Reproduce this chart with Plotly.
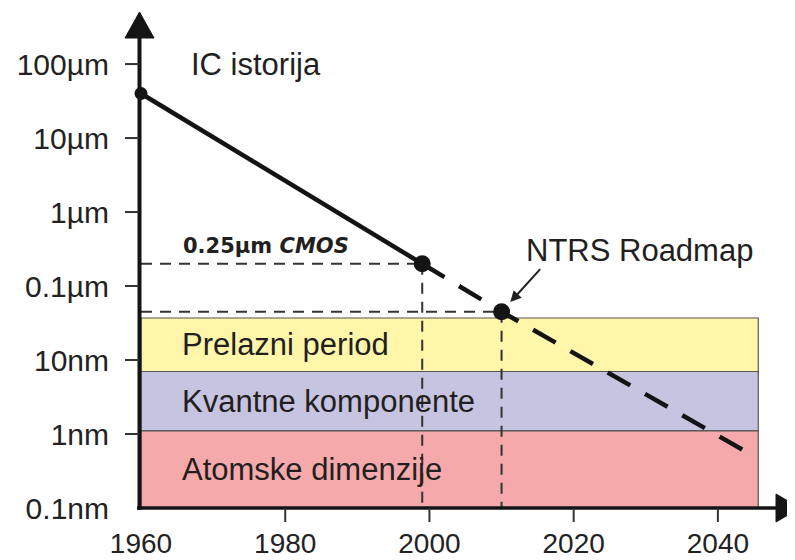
import numpy as np
import plotly.graph_objects as go

# ---------------- data ----------------
hist_years = [1960, 1999]
hist_nm = [40000, 200]
roadmap_years = [1999, 2010, 2045]
roadmap_nm = [200, 45, 0.5]
point_years = [1960, 1999, 2010]
point_nm = [40000, 200, 45]
point_sizes = [13, 17, 17]
ref_years = [1999, 2010]
ref_nm = [200, 45]

band_labels = ["Prelazni period", "Kvantne komponente", "Atomske dimenzije"]
band_low_nm = [7, 1.1, 0.1]
band_high_nm = [37, 7, 1.1]
band_colors = ["#FFF6AA", "#C7C4E1", "#F5A9AB"]
band_start_year = 1960
band_end_year = 2045.6
band_label_year = 1965.4

x_tick_years = [1960, 1980, 2000, 2020, 2040]
x_tick_text = ["1960", "1980", "2000", "2020", "2040"]
y_tick_nm = [0.1, 1, 10, 100, 1000, 10000, 100000]
y_tick_text = ["0.1nm", "1nm", "10nm", "0.1µm", "1µm", "10µm", "100µm"]

# ---------------- layout geometry ----------------
# the page body adds an 8px margin, so the figure is made 8px smaller
OFF = 8
W, H = 795 - OFF, 560 - OFF
L, R, T, B = 141 - OFF, 5, 13 - OFF, 52
PW, PH = W - L - R, H - T - B
X_RANGE = [1960, 2050]
Y_RANGE = [-1, 5.69]

def px(xp):
    """reference-screen pixel x -> paper"""
    return (xp - OFF - L) / PW

def py(yp):
    """reference-screen pixel y -> paper"""
    return (H - B - (yp - OFF)) / PH

FONT = "Liberation Sans, Arial, sans-serif"
DARK = "#141414"
TXT = "#231F20"

fig = go.Figure()

# bands
for lab, lo, hi, col in zip(band_labels, band_low_nm, band_high_nm, band_colors):
    fig.add_trace(go.Scatter(
        x=[band_start_year, band_end_year, band_end_year, band_start_year, band_start_year],
        y=[lo, lo, hi, hi, lo], mode="lines", fill="toself", fillcolor=col,
        line=dict(color="#555555", width=1.2), hoverinfo="skip", showlegend=False))

# guide dashed lines
for yr, v in zip(ref_years, ref_nm):
    fig.add_trace(go.Scatter(x=[X_RANGE[0], yr], y=[v, v], mode="lines",
                             line=dict(color="#333333", width=2, dash="11px,8px"),
                             hoverinfo="skip", showlegend=False))
    fig.add_trace(go.Scatter(x=[yr, yr], y=[v, band_low_nm[-1]], mode="lines",
                             line=dict(color="#333333", width=2, dash="11px,8px"),
                             hoverinfo="skip", showlegend=False))

# history (solid) and roadmap (dashed)
fig.add_trace(go.Scatter(x=hist_years, y=hist_nm, mode="lines",
                         line=dict(color=DARK, width=4.5), showlegend=False, cliponaxis=False))
fig.add_trace(go.Scatter(x=roadmap_years, y=roadmap_nm, mode="lines",
                         line=dict(color=DARK, width=4.5, dash="26px,17px"), showlegend=False))
fig.add_trace(go.Scatter(x=point_years, y=point_nm, mode="markers", opacity=1,
                         marker=dict(color=DARK, size=point_sizes, opacity=1,
                                     line=dict(width=0, color=DARK)),
                         showlegend=False, cliponaxis=False))

shapes = []
# axis lines
shapes.append(dict(type="line", xref="paper", yref="paper", x0=px(139.5), x1=px(139.5),
                   y0=py(510), y1=py(30), line=dict(color=DARK, width=4)))
shapes.append(dict(type="line", xref="paper", yref="paper", x0=px(137), x1=px(782),
                   y0=py(508), y1=py(508), line=dict(color=DARK, width=3.5)))
# arrowheads
shapes.append(dict(type="path", xref="paper", yref="paper",
                   path=f"M {px(125)},{py(38)} L {px(154)},{py(38)} L {px(139.5)},{py(12)} Z",
                   fillcolor=DARK, line=dict(color=DARK, width=1)))
shapes.append(dict(type="path", xref="paper", yref="paper",
                   path=f"M {px(776)},{py(494)} L {px(776)},{py(522)} L {px(800)},{py(508)} Z",
                   fillcolor=DARK, line=dict(color=DARK, width=1)))
# tick marks
for v in y_tick_nm[1:]:
    shapes.append(dict(type="line", xref="paper", yref="y", x0=px(125), x1=px(139),
                       y0=v, y1=v, line=dict(color="#333333", width=2)))
for yr in x_tick_years[1:]:
    shapes.append(dict(type="line", xref="x", yref="paper", x0=yr, x1=yr,
                       y0=py(508), y1=py(522), line=dict(color="#333333", width=2)))

annotations = []
for lab, lo, hi in zip(band_labels, band_low_nm, band_high_nm):
    annotations.append(dict(xref="x", yref="y", x=band_label_year,
                            y=float(np.log10(np.sqrt(lo * hi))), text=lab, showarrow=False,
                            xanchor="left", yanchor="middle",
                            font=dict(family=FONT, size=31, color=TXT)))
annotations.append(dict(xref="paper", yref="paper", x=px(189), y=py(64), text="IC istorija",
                        showarrow=False, xanchor="left", yanchor="middle",
                        font=dict(family=FONT, size=31, color=TXT)))
annotations.append(dict(xref="paper", yref="paper", x=px(524), y=py(250), text="NTRS Roadmap",
                        showarrow=False, xanchor="left", yanchor="middle",
                        font=dict(family=FONT, size=31, color=TXT)))
annotations.append(dict(xref="paper", yref="paper", x=px(181), y=py(246),
                        text="<b>0.25µm <i>CMOS</i></b>",
                        showarrow=False, xanchor="left", yanchor="middle",
                        font=dict(family="DejaVu Sans, sans-serif", size=21, color=TXT)))
annotations.append(dict(xref="x", yref="y", x=point_years[2], y=float(np.log10(point_nm[2])),
                        text="", showarrow=True, ax=40, ay=-44, standoff=13,
                        arrowhead=2, arrowsize=1.1, arrowwidth=2, arrowcolor="#222222"))

fig.update_layout(
    template="none",
    width=W, height=H, margin=dict(l=L, r=R, t=T, b=B, pad=0, autoexpand=False),
    paper_bgcolor="white", plot_bgcolor="white",
    shapes=shapes, annotations=annotations, showlegend=False,
    xaxis=dict(range=X_RANGE, tickvals=x_tick_years, ticktext=x_tick_text, ticks="",
               automargin=False, showgrid=False, zeroline=False, showline=False,
               ticklabelstandoff=16,
               tickfont=dict(family=FONT, size=28, color="#222222")),
    yaxis=dict(type="log", range=Y_RANGE, tickvals=y_tick_nm, ticktext=y_tick_text, ticks="",
               automargin=False, showgrid=False, zeroline=False, showline=False,
               ticklabelstandoff=31,
               tickfont=dict(family=FONT, size=30, color="#222222")),
)

fig.write_html("out.html")
